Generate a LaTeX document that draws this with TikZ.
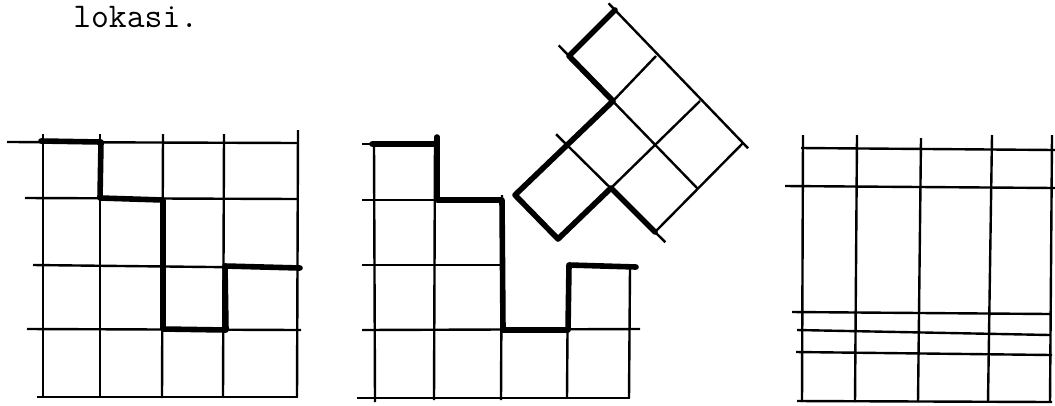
\documentclass[tikz,border=0pt]{standalone}
\usetikzlibrary{calc}
\tikzset{
  gridline/.style={line width=1.8pt},
  walk/.style={line width=4.2pt, line cap=round, line join=round},
  caption/.style={anchor=base west, inner sep=0pt, font=\ttfamily\fontsize{26}{30}\selectfont}
}

\begin{document}
\begin{tikzpicture}[x=0.75pt,y=-0.75pt]
    \useasboundingbox (0,0) rectangle (1055,405);

    \node[caption] (lokasi) at (73,27) {lokasi.};

    % left square
    \draw[gridline] (43,134) -- (43,397);
    \draw[gridline] (100,134) -- (100,397);
    \draw[gridline] (163,134) -- (162,398);
    \draw[gridline] (224,134) -- (223,397);
    \draw[gridline] (298,130) -- (297,397);
    \draw[gridline] (7,142) -- (298,143);
    \draw[gridline] (25,198) -- (298,199);
    \draw[gridline] (33,265) -- (300,268);
    \draw[gridline] (27,329) -- (301,330);
    \draw[gridline] (37,397) -- (298,397);

    \draw[walk] (41,141) -- (101,142) -- (100,198) -- (163,200) -- (163,329) -- (226,330) -- (225,266) -- (300,268);

    % middle square
    \draw[gridline] (374,144) -- (375,402);
    \draw[gridline] (435,140) -- (434,400);
    \draw[gridline] (502,195) -- (501,400);
    \draw[gridline] (568,263) -- (567,398);
    \draw[gridline] (630,268) -- (629,398);
    \draw[gridline] (362,144) -- (437,144);
    \draw[gridline] (362,200) -- (502,200);
    \draw[gridline] (362,265) -- (502,265);
    \draw[gridline] (362,330) -- (640,329);
    \draw[gridline] (357,398) -- (630,398);

    \draw[walk] (372,144) -- (437,144) -- (437,200) -- (502,200) -- (503,330) -- (568,330) -- (569,265) -- (636,267);
    \draw[walk] (437,137) -- (437,145);

    % turned piece
    \coordinate (p00) at (615,10);
    \coordinate (p01) at (569,56);
    \coordinate (p10) at (656,56);
    \coordinate (p11) at (613,101);
    \coordinate (p12) at (569,147);
    \coordinate (p13) at (515,195);
    \coordinate (p20) at (700,101);
    \coordinate (p21) at (655,146);
    \coordinate (p22) at (611,188);
    \coordinate (p23) at (558,239);
    \coordinate (p30) at (743,143);
    \coordinate (p31) at (698,189);
    \coordinate (p32) at (655,232);

    \draw[gridline] ($(p00)!-0.05!(p30)$) -- ($(p00)!1.04!(p30)$);
    \draw[gridline] ($(p01)!-0.08!(p31)$) -- (p31);
    \draw[gridline] ($(p12)!-0.15!(p32)$) -- ($(p12)!1.12!(p32)$);
    \draw[gridline] (p10) -- (p11);
    \draw[gridline] (p20) -- (p22);
    \draw[gridline] (p30) -- (p32);

    \draw[walk] (p00) -- (p01) -- (p11) -- (p13) -- (p23) -- (p22) -- (p32);

    % right square
    \draw[gridline] (803,135) -- (802,402);
    \draw[gridline] (857,135) -- (855,402);
    \draw[gridline] (921,138) -- (918,402);
    \draw[gridline] (992,135) -- (988,402);
    \draw[gridline] (1052,135) -- (1050,402);
    \draw[gridline] (801,148) -- (1055,150);
    \draw[gridline] (785,186) -- (1055,188);
    \draw[gridline] (792,312) -- (1050,314);
    \draw[gridline] (797,330) -- (1050,335);
    \draw[gridline] (796,352) -- (1052,355);
    \draw[gridline] (797,401) -- (1052,402);
\end{tikzpicture}
\end{document}
